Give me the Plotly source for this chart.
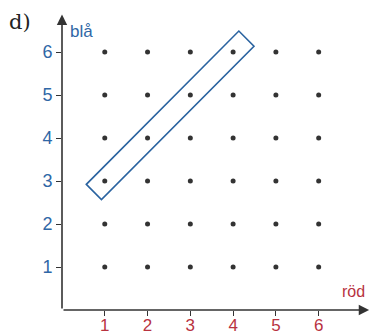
import math
import plotly.graph_objects as go

# Grid of lattice points
x_values = [1, 2, 3, 4, 5, 6]
y_values = [1, 2, 3, 4, 5, 6]

# Points enclosed by the highlighted band (röd, blå)
band_start = (1, 3)
band_end = (4, 6)

tick_vals = [1, 2, 3, 4, 5, 6]
tick_text = ["1", "2", "3", "4", "5", "6"]

BLUE = "#2f67a6"
RED = "#b8323f"
INK = "#333333"
BOX = "#2a63a0"

grid_x = [x for y in y_values for x in x_values]
grid_y = [y for y in y_values for x in x_values]

fig = go.Figure()
fig.add_trace(go.Scatter(
    x=grid_x, y=grid_y, mode="markers",
    marker=dict(size=5, color=INK), hoverinfo="skip", showlegend=False,
))

# Rotated rectangle around the diagonal run of points
ux, uy = 1 / math.sqrt(2), 1 / math.sqrt(2)
nx, ny = -1 / math.sqrt(2), 1 / math.sqrt(2)
pad_lo, pad_hi, half_w = 0.36, 0.44, 0.25
x0, y0 = band_start
x1, y1 = band_end
corners = [
    (x0 - pad_lo * ux + half_w * nx, y0 - pad_lo * uy + half_w * ny),
    (x0 - pad_lo * ux - half_w * nx, y0 - pad_lo * uy - half_w * ny),
    (x1 + pad_hi * ux - half_w * nx, y1 + pad_hi * uy - half_w * ny),
    (x1 + pad_hi * ux + half_w * nx, y1 + pad_hi * uy + half_w * ny),
]
path = "M " + " L ".join(f"{cx},{cy}" for cx, cy in corners) + " Z"
fig.add_shape(type="path", path=path, xref="x", yref="y",
              line=dict(color=BOX, width=1.6), fillcolor="rgba(0,0,0,0)")

x_max, y_max = 7.2, 7.0

annotations = [
    # axis arrows
    dict(x=x_max - 0.02, y=0, ax=0, ay=0, xref="x", yref="y", axref="x", ayref="y",
         text="", showarrow=True, arrowhead=2, arrowsize=1.3, arrowwidth=1.6,
         arrowcolor=INK, standoff=0, startstandoff=0),
    dict(x=0, y=6.87, ax=0, ay=0, xref="x", yref="y", axref="x", ayref="y",
         text="", showarrow=True, arrowhead=2, arrowsize=1.3, arrowwidth=1.6,
         arrowcolor=INK, standoff=0, startstandoff=0),
    # axis titles
    dict(x=0, y=6.47, xref="x", yref="y", text="blå", showarrow=False,
         xanchor="left", yanchor="middle", xshift=6,
         font=dict(family="Liberation Sans, Arial", size=17, color=BLUE)),
    dict(x=7.13, y=0.44, xref="x", yref="y", text="röd", showarrow=False,
         xanchor="right", yanchor="middle",
         font=dict(family="Liberation Sans, Arial", size=16, color=RED)),
    # panel label
    dict(x=-0.18, y=0.958, xref="paper", yref="paper", text="d)", showarrow=False,
         xanchor="left", yanchor="middle",
         font=dict(family="DejaVu Serif, serif", size=21, color="#222222")),
]

fig.update_layout(
    width=370, height=335,
    margin=dict(l=62, r=0, t=9, b=25, autoexpand=False),
    paper_bgcolor="white", plot_bgcolor="white",
    showlegend=False,
    annotations=annotations,
    xaxis=dict(range=[0, x_max], tickvals=tick_vals, ticktext=tick_text,
               showgrid=False, zeroline=False, showline=False, automargin=False,
               ticks="outside", ticklen=5, tickwidth=1.3, tickcolor=INK,
               ticklabelstandoff=-5,
               tickfont=dict(family="Liberation Sans, Arial", size=17, color=RED),
               fixedrange=True),
    yaxis=dict(range=[0, y_max], tickvals=tick_vals, ticktext=tick_text,
               showgrid=False, zeroline=False, showline=False, automargin=False,
               ticks="outside", ticklen=5, tickwidth=1.3, tickcolor=INK,
               tickfont=dict(family="Liberation Sans, Arial", size=18, color=BLUE),
               fixedrange=True),
)

fig.write_html("out.html", config={"displayModeBar": False})
